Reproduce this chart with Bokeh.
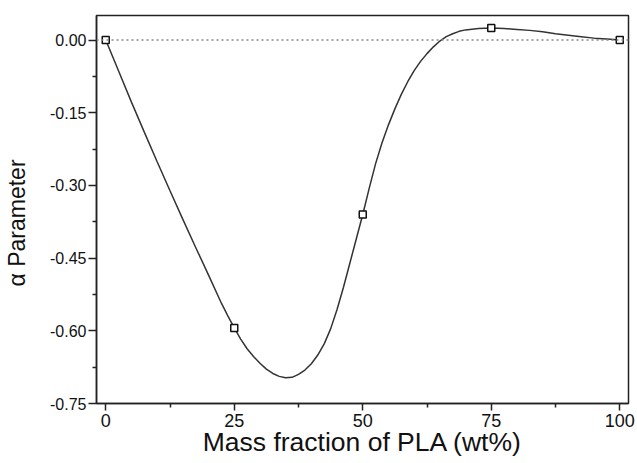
from bokeh.plotting import figure
from bokeh.models import FixedTicker, Span, Title, Range1d
from bokeh.embed import file_html
from bokeh.resources import INLINE

# measured points
pt_x = [0, 25, 50, 75, 100]
pt_y = [0.0, -0.594, -0.360, 0.025, 0.0]

# smooth curve
curve_x = [0, 2.5, 5, 7.5, 10, 12.5, 15, 17.5, 20, 22.5, 23.75,
           25, 26.25, 27.5, 28.75, 30, 31.25, 32.5, 33.75, 35, 36.25, 37.5, 38.75,
           40, 41.25, 42.5, 43.75, 45, 46.25, 47.5, 48.75,
           50, 51.25, 52.5, 53.75, 55, 56.25, 57.5, 58.75, 60, 61.25, 62.5, 63.75,
           65, 66.25, 67.5, 68.75, 70, 72.5,
           75, 77.5, 80, 82.5, 85, 87.5, 90, 92.5, 95, 97.5, 100]
curve_y = [0.0, -0.064, -0.128, -0.190, -0.251, -0.311, -0.370, -0.428, -0.485, -0.543, -0.569,
           -0.594, -0.617, -0.637, -0.653, -0.667, -0.679, -0.688, -0.694, -0.697, -0.696, -0.690, -0.681,
           -0.668, -0.650, -0.627, -0.596, -0.556, -0.510, -0.460, -0.410,
           -0.360, -0.306, -0.255, -0.212, -0.175, -0.142, -0.112, -0.086, -0.063, -0.044, -0.028, -0.014,
           -0.002, 0.007, 0.013, 0.018, 0.021, 0.024,
           0.025, 0.024, 0.022, 0.020, 0.017, 0.013, 0.010, 0.007, 0.004, 0.002, 0.0]

x_ticks = [0, 25, 50, 75, 100]
x_tick_labels = ["0", "25", "50", "75", "100"]
x_minor = [12.5, 37.5, 62.5, 87.5]
y_ticks = [-0.75, -0.6, -0.45, -0.3, -0.15, 0.0]
y_tick_labels = ["-0.75", "-0.60", "-0.45", "-0.30", "-0.15", "0.00"]
y_minor = [-0.675, -0.525, -0.375, -0.225, -0.075]

FONT = "Liberation Sans"
DARK = "#222222"

p = figure(width=637, height=463, output_backend="svg", toolbar_location=None,
           x_range=Range1d(-1.8, 101.7), y_range=Range1d(-0.75, 0.0507),
           min_border_left=96, min_border_right=9, min_border_top=15, min_border_bottom=60)
p.grid.visible = False
p.background_fill_color = "white"
p.border_fill_color = "white"
p.outline_line_color = DARK
p.outline_line_width = 1.5

for ax in (p.xaxis[0], p.yaxis[0]):
    ax.axis_line_color = DARK
    ax.axis_line_width = 1.5
    ax.major_tick_line_color = DARK
    ax.major_tick_line_width = 1.5
    ax.minor_tick_line_color = DARK
    ax.minor_tick_line_width = 1.5
    ax.major_tick_in = 0
    ax.minor_tick_in = 0
    ax.minor_tick_out = 4
    ax.major_label_text_font = FONT
    ax.major_label_text_color = "#111111"

xa = p.xaxis[0]
xa.ticker = FixedTicker(ticks=x_ticks, minor_ticks=x_minor)
xa.major_label_overrides = {t: l for t, l in zip(x_ticks, x_tick_labels)}
xa.major_tick_out = 7
xa.major_label_standoff = 3
xa.major_label_text_font_size = "18px"
xa.axis_label = "Mass fraction of PLA (wt%)"
xa.axis_label_text_font = FONT
xa.axis_label_text_font_size = "26.5px"
xa.axis_label_text_font_style = "normal"
xa.axis_label_text_color = "#111111"
xa.axis_label_standoff = -3

ya = p.yaxis[0]
ya.ticker = FixedTicker(ticks=y_ticks, minor_ticks=y_minor)
ya.major_label_overrides = {t: l for t, l in zip(y_ticks, y_tick_labels)}
ya.major_tick_out = 8
ya.major_label_standoff = 2
ya.major_label_text_font_size = "16px"

ytitle = Title(text="\u03b1 Parameter", align="left", offset=117, standoff=0,
               padding=dict(left=0, right=0, top=0, bottom=18),
               text_font=FONT, text_font_size="23px", text_font_style="normal",
               text_color="#111111")
p.add_layout(ytitle, "left")

p.add_layout(Span(location=0, dimension="width", line_color="#888888",
                  line_dash="2 3", line_width=1.5))

p.line(curve_x, curve_y, line_color="#333333", line_width=1.5)
p.scatter(pt_x, pt_y, marker="square", size=7, fill_color="white",
          line_color="#111111", line_width=1.5)

open("out.html", "w").write(file_html(p, INLINE))
